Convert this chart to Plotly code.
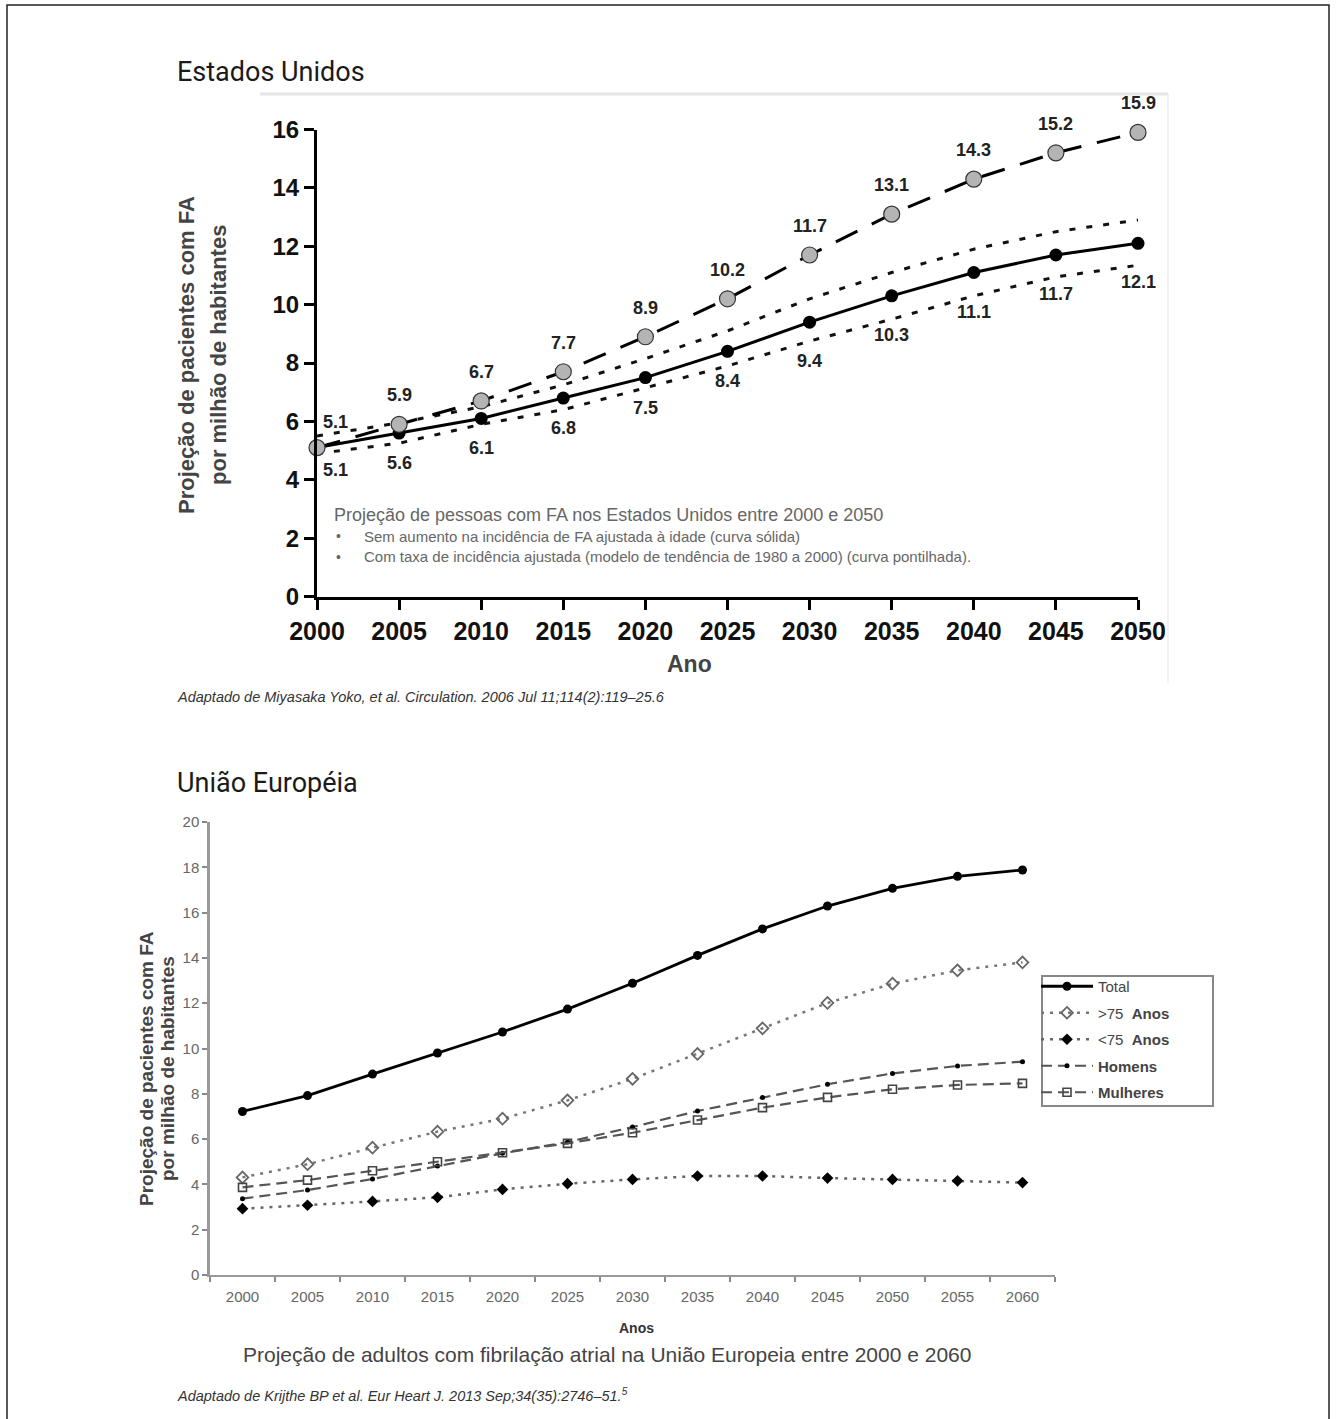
import plotly.graph_objects as go

W, H = 1336, 1419

# ---- United States: projected patients with AF (millions) ----
us_years = [2000, 2005, 2010, 2015, 2020, 2025, 2030, 2035, 2040, 2045, 2050]
us_trend = [5.1, 5.9, 6.7, 7.7, 8.9, 10.2, 11.7, 13.1, 14.3, 15.2, 15.9]
us_constant = [5.1, 5.6, 6.1, 6.8, 7.5, 8.4, 9.4, 10.3, 11.1, 11.7, 12.1]
us_constant_upper = [5.5, 5.95, 6.5, 7.25, 8.15, 9.1, 10.2, 11.1, 11.9, 12.5, 12.9]
us_constant_lower = [4.9, 5.25, 5.9, 6.4, 7.15, 7.9, 8.75, 9.5, 10.3, 10.95, 11.35]

# ---- European Union: projected adults with AF (millions) ----
eu_years = ["2000", "2005", "2010", "2015", "2020", "2025", "2030",
            "2035", "2040", "2045", "2050", "2055", "2060"]
eu_total = [7.22, 7.92, 8.87, 9.8, 10.73, 11.74, 12.88, 14.11, 15.28, 16.29, 17.07, 17.6, 17.88]
eu_over75 = [4.31, 4.89, 5.62, 6.33, 6.9, 7.71, 8.66, 9.76, 10.89, 12.01, 12.86, 13.45, 13.8]
eu_under75 = [2.93, 3.08, 3.25, 3.43, 3.78, 4.03, 4.22, 4.37, 4.37, 4.28, 4.22, 4.16, 4.08]
eu_men = [3.37, 3.75, 4.24, 4.81, 5.37, 5.87, 6.53, 7.24, 7.84, 8.42, 8.9, 9.23, 9.42]
eu_women = [3.87, 4.19, 4.6, 5.0, 5.4, 5.81, 6.28, 6.84, 7.39, 7.84, 8.2, 8.39, 8.46]

ARIAL = "Arial, Liberation Sans, sans-serif"


def px(x):
    return x / W


def py(y):
    return 1 - y / H


fig = go.Figure()

# --- top chart traces ---
dot_style = dict(color="#111", width=3, dash="6px,11px")
fig.add_trace(go.Scatter(x=us_years, y=us_constant_upper, mode="lines", line=dot_style,
                         showlegend=False, hoverinfo="skip", cliponaxis=False))
fig.add_trace(go.Scatter(x=us_years, y=us_constant_lower, mode="lines", line=dot_style,
                         showlegend=False, hoverinfo="skip", cliponaxis=False))
fig.add_trace(go.Scatter(x=us_years, y=us_constant, mode="lines+markers",
                         line=dict(color="#000", width=3),
                         marker=dict(size=13, color="#000"),
                         showlegend=False, cliponaxis=False))
fig.add_trace(go.Scatter(x=us_years, y=us_trend, mode="lines+markers",
                         line=dict(color="#000", width=3, dash="24px,16px"),
                         marker=dict(size=16, color="#b4b4b4", line=dict(color="#333", width=1.2)),
                         showlegend=False, cliponaxis=False))

# --- bottom chart traces ---
fig.add_trace(go.Scatter(x=eu_years, y=eu_total, mode="lines+markers", name="Total",
                         line=dict(color="#000", width=2.8),
                         marker=dict(symbol="circle", size=9, color="#000"),
                         xaxis="x2", yaxis="y2", legendgroup="a"))
fig.add_trace(go.Scatter(x=eu_years, y=eu_over75, mode="lines+markers", name="&gt;75  <b>Anos</b>",
                         line=dict(color="#777", width=2.5, dash="3px,6px"),
                         marker=dict(symbol="diamond-open", size=9, color="#666", line=dict(width=1.8)),
                         xaxis="x2", yaxis="y2", legendgroup="b"))
fig.add_trace(go.Scatter(x=eu_years, y=eu_under75, mode="lines+markers", name="&lt;75  <b>Anos</b>",
                         line=dict(color="#666", width=2.5, dash="3px,6px"),
                         marker=dict(symbol="diamond", size=9, color="#000"),
                         xaxis="x2", yaxis="y2", legendgroup="c"))
fig.add_trace(go.Scatter(x=eu_years, y=eu_men, mode="lines+markers", name="<b>Homens</b>",
                         line=dict(color="#555", width=2.2, dash="11px,6px"),
                         marker=dict(symbol="circle", size=5, color="#000"),
                         xaxis="x2", yaxis="y2", legendgroup="d"))
fig.add_trace(go.Scatter(x=eu_years, y=eu_women, mode="lines+markers", name="<b>Mulheres</b>",
                         line=dict(color="#555", width=2.2, dash="11px,6px"),
                         marker=dict(symbol="square-open", size=8, color="#444", line=dict(width=1.6)),
                         xaxis="x2", yaxis="y2", legendgroup="e"))

annotations = []

# value labels on the US curves
label_font = dict(family=ARIAL, size=18, color="#222", weight="bold")
for i, (yr, v) in enumerate(zip(us_years, us_trend)):
    annotations.append(dict(x=yr, y=v, xref="x", yref="y", text=f"{v:.1f}", showarrow=False,
                            font=label_font, xshift=18 if i == 0 else 0, yshift=26 if i == 0 else 29))
for i, (yr, v) in enumerate(zip(us_years, us_constant)):
    if i == 0:
        dx, dy = 18, -22
    elif yr <= 2025:
        dx, dy = 0, -30
    else:
        dx, dy = 0, -39
    annotations.append(dict(x=yr, y=v, xref="x", yref="y", text=f"{v:.1f}", showarrow=False,
                            font=label_font, xshift=dx, yshift=dy))


def page_text(x, y, text, size, color="#222", xanchor="left", bold=False, family=ARIAL, angle=0):
    annotations.append(dict(x=px(x), y=py(y), xref="paper", yref="paper", text=text,
                            showarrow=False, xanchor=xanchor, yanchor="middle", textangle=angle,
                            font=dict(family=family, size=size, color=color,
                                      weight="bold" if bold else "normal")))


# headings
page_text(175, 72, "Estados Unidos", 27, "#1a1a1a", family="Roboto, Arial, sans-serif")
page_text(175, 783, "União Européia", 27, "#1a1a1a", family="Roboto, Arial, sans-serif")

# top chart notes
page_text(332, 515, "Projeção de pessoas com FA nos Estados Unidos entre 2000 e 2050", 18, "#666")
page_text(334, 536, "•", 14, "#666")
page_text(362, 536, "Sem aumento na incidência de FA ajustada à idade (curva sólida)", 15, "#666")
page_text(334, 557, "•", 14, "#666")
page_text(362, 557, "Com taxa de incidência ajustada (modelo de tendência de 1980 a 2000) (curva pontilhada).", 15, "#666")

# top axis titles
page_text(186, 355, "Projeção de pacientes com FA", 22, "#444", "center", True, angle=-90)
page_text(218, 355, "por milhão de habitantes", 22, "#444", "center", True, angle=-90)
page_text(689, 664, "Ano", 23, "#444", "center", True)

# bottom axis titles
page_text(146, 1069, "Projeção de pacientes com FA", 19, "#444", "center", True, angle=-90)
page_text(167, 1069, "por milhão de habitantes", 19, "#444", "center", True, angle=-90)
page_text(636, 1328, "Anos", 14, "#333", "center", True)
page_text(607, 1354, "Projeção de adultos com fibrilação atrial na União Europeia entre 2000 e 2060", 21, "#444", "center")

# sources
page_text(175, 697, "<i>Adaptado de Miyasaka Yoko, et al. Circulation. 2006 Jul 11;114(2):119–25.6</i>", 14.5, "#333")
page_text(175, 1395, "<i>Adaptado de Krijthe BP et al. Eur Heart J. 2013 Sep;34(35):2746–51.<sup>5</sup></i>", 14.5, "#333")

shapes = [
    # page frame
    dict(type="rect", xref="paper", yref="paper", x0=px(7), x1=px(1329), y0=-0.02, y1=py(5),
         line=dict(color="#222", width=1.5), layer="below"),
    # faint outline of the US figure
    dict(type="line", xref="paper", yref="paper", x0=px(260), x1=px(1168), y0=py(94), y1=py(94),
         line=dict(color="#e6e6e6", width=3), layer="below"),
    dict(type="line", xref="paper", yref="paper", x0=px(1168), x1=px(1168), y0=py(94), y1=py(683),
         line=dict(color="#f0f0f0", width=2), layer="below"),
    # legend frame of the EU chart
    dict(type="rect", xref="paper", yref="paper", x0=px(1042), x1=px(1213), y0=py(1106), y1=py(976),
         line=dict(color="#888", width=2), layer="above"),
]

fig.update_layout(
    width=W, height=H,
    margin=dict(l=0, r=0, t=0, b=0, pad=0, autoexpand=False),
    paper_bgcolor="white", plot_bgcolor="white",
    font=dict(family=ARIAL),
    annotations=annotations,
    shapes=shapes,
    xaxis=dict(domain=[px(317), px(1138)], range=[2000, 2050], tickvals=us_years,
               showline=True, linecolor="#000", linewidth=3, ticks="outside", ticklen=10,
               tickwidth=3, tickcolor="#000", showgrid=False, zeroline=False, automargin=False,
               tickfont=dict(family=ARIAL, size=25, color="#111", weight="bold"), anchor="y"),
    yaxis=dict(domain=[py(596.5), py(129.5)], range=[0, 16], dtick=2,
               showline=True, linecolor="#000", linewidth=3, ticks="outside", ticklen=10,
               tickwidth=3, tickcolor="#000", showgrid=False, zeroline=False, automargin=False,
               tickfont=dict(family=ARIAL, size=24, color="#111", weight="bold"), anchor="x"),
    xaxis2=dict(domain=[px(210), px(1055)], type="category", range=[-0.5, 12.5],
                tickson="boundaries", showline=True, linecolor="#999", linewidth=2,
                ticks="outside", ticklen=5, tickwidth=1.5, tickcolor="#888", showgrid=False,
                zeroline=False, automargin=False, ticklabelstandoff=7,
                tickfont=dict(family=ARIAL, size=15, color="#666"), anchor="y2"),
    yaxis2=dict(domain=[py(1275), py(822)], range=[0, 20], dtick=2,
                showline=True, linecolor="#999", linewidth=2.5, ticks="outside", ticklen=5,
                tickwidth=1.5, tickcolor="#888", showgrid=False, zeroline=False, automargin=False,
                tickfont=dict(family=ARIAL, size=15, color="#666"), anchor="x2"),
    legend=dict(x=px(1036), y=py(970), xanchor="left", yanchor="top",
                borderwidth=0, bgcolor="rgba(0,0,0,0)",
                font=dict(family=ARIAL, size=15, color="#444"),
                itemwidth=52, tracegroupgap=4, traceorder="grouped"),
)

fig.write_html("out.html")
